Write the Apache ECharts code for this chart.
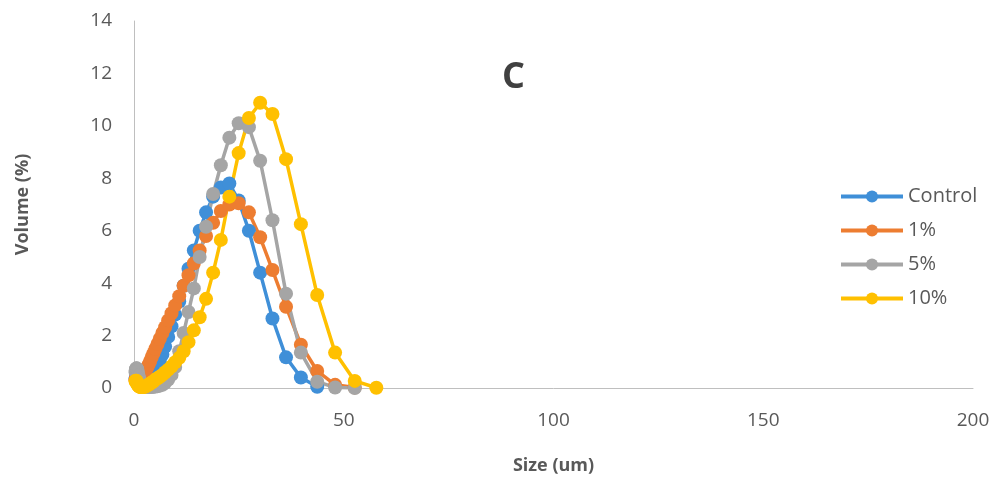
<!DOCTYPE html>
<html>
<head>
<meta charset="utf-8">
<script src="https://cdn.jsdelivr.net/npm/echarts@6/dist/echarts.min.js"></script>
<style>
  html, body { margin: 0; padding: 0; background: #fff; }
  #chart { width: 1003px; height: 480px; }
</style>
</head>
<body>
<div id="chart"></div>
<script>
// 粒径分档 (um)
var sizes = [0.375, 0.412, 0.452, 0.496, 0.545, 0.598, 0.656, 0.721, 0.791, 0.868, 0.953,
  1.047, 1.149, 1.261, 1.385, 1.520, 1.669, 1.832,
  2.010, 2.207, 2.423, 2.660, 2.920,
  3.205, 3.519, 3.863, 4.240, 4.655, 5.110, 5.610, 6.158, 6.760, 7.421, 8.147, 8.943, 9.817,
  10.78, 11.83, 12.99, 14.26, 15.65, 17.18, 18.86,
  20.70, 22.73, 24.95, 27.39, 30.07, 33.01, 36.24, 39.78, 43.67, 47.94, 52.62, 57.77];

var control = [0.35, 0.38, 0.41, 0.44, 0.46, 0.48, 0.49, 0.5, 0.5, 0.49, 0.48,
  0.46, 0.44, 0.42, 0.4, 0.38, 0.36, 0.34,
  0.33, 0.32, 0.32, 0.32, 0.33,
  0.35, 0.38, 0.42, 0.48, 0.56, 0.68, 0.84, 1.03, 1.28, 1.58, 1.95, 2.35, 2.8,
  3.3, 3.9, 4.55, 5.25, 6.0, 6.7, 7.3,
  7.65, 7.8, 7.15, 6.0, 4.4, 2.65, 1.17, 0.4, 0.05];

var pct1 = [0.3, 0.32, 0.34, 0.36, 0.38, 0.39, 0.4, 0.41, 0.42, 0.42, 0.43,
  0.43, 0.44, 0.44, 0.45, 0.46, 0.47, 0.48,
  0.5, 0.53, 0.57, 0.62, 0.7,
  0.8, 0.9, 1.03, 1.18, 1.33, 1.5, 1.68, 1.88, 2.1, 2.32, 2.58, 2.85, 3.15,
  3.5, 3.9, 4.3, 4.75, 5.25, 5.8, 6.3,
  6.75, 7.0, 7.05, 6.7, 5.75, 4.5, 3.1, 1.65, 0.65, 0.12, 0.02];

var pct5 = [0.6, 0.65, 0.7, 0.72, 0.74, 0.75, 0.74, 0.72, 0.68, 0.62, 0.55,
  0.48, 0.4, 0.33, 0.27, 0.22, 0.18, 0.14,
  0.11, 0.09, 0.07, 0.06, 0.05,
  0.04, 0.04, 0.04, 0.04, 0.05, 0.06, 0.07, 0.09, 0.12, 0.2, 0.32, 0.5, 0.8,
  1.4, 2.1, 2.9, 3.8, 5.0, 6.15, 7.4,
  8.5, 9.55, 10.1, 9.95, 8.67, 6.4, 3.6, 1.35, 0.24, 0.02, 0.0];

var pct10 = [0.25, 0.27, 0.28, 0.28, 0.27, 0.25, 0.23, 0.2, 0.17, 0.14, 0.11,
  0.09, 0.07, 0.06, 0.05, 0.05, 0.04, 0.04,
  0.04, 0.04, 0.05, 0.06, 0.08,
  0.1, 0.13, 0.17, 0.21, 0.26, 0.32, 0.37, 0.43, 0.5, 0.6, 0.7, 0.82, 0.98,
  1.15, 1.4, 1.75, 2.2, 2.7, 3.4, 4.4,
  5.65, 7.3, 8.96, 10.3, 10.88, 10.45, 8.73, 6.25, 3.55, 1.35, 0.27, 0.01];

var seriesNames = ['Control', '1%', '5%', '10%'];
var colors = ['#3F8FD8', '#ED7D31', '#A5A5A5', '#FFC000'];

function pairs(vals) {
  return vals.map(function (v, i) { return [sizes[i], v]; });
}

var txt = '#595959';
var font = '"Open Sans", Lato, sans-serif';

var myChart = echarts.init(document.getElementById('chart'));

var option = {
  animation: false,
  color: colors,
  title: {
    text: 'C',
    left: 497,
    top: 55,
    textStyle: { fontSize: 36, fontWeight: 'bold', color: '#404040', fontFamily: font }
  },
  legend: {
    orient: 'vertical',
    left: 834,
    top: 181,
    itemWidth: 62,
    itemHeight: 15,
    itemGap: 13,
    data: seriesNames,
    lineStyle: { width: 4 },
    textStyle: { fontSize: 20, color: txt, fontFamily: font, lineHeight: 21 }
  },
  grid: { left: 134, right: 30, top: 21, bottom: 92 },
  xAxis: {
    type: 'value',
    min: 0,
    max: 200,
    interval: 50,
    name: 'Size (um)',
    nameLocation: 'middle',
    nameGap: 69,
    nameTextStyle: { fontSize: 18, fontWeight: 'bold', color: txt, fontFamily: font },
    axisLine: { show: true, lineStyle: { color: '#BFBFBF', width: 1 } },
    axisTick: { show: false },
    splitLine: { show: false },
    axisLabel: { fontSize: 19, color: txt, margin: 23, fontFamily: font }
  },
  yAxis: {
    type: 'value',
    min: 0,
    max: 14,
    interval: 2,
    name: 'Volume (%)',
    nameLocation: 'middle',
    nameGap: 102,
    nameTextStyle: { fontSize: 18, fontWeight: 'bold', color: txt, fontFamily: font },
    axisLine: { show: true, lineStyle: { color: '#BFBFBF', width: 1 } },
    axisTick: { show: false },
    splitLine: { show: false },
    axisLabel: { fontSize: 19, color: txt, margin: 22, fontFamily: font }
  },
  series: [control, pct1, pct5, pct10].map(function (vals, i) {
    return {
      name: seriesNames[i],
      type: 'line',
      data: pairs(vals),
      symbol: 'circle',
      symbolSize: 14,
      showAllSymbol: true,
      lineStyle: { width: 3.5, color: colors[i] },
      itemStyle: { color: colors[i] }
    };
  })
};

myChart.setOption(option);
</script>
</body>
</html>
